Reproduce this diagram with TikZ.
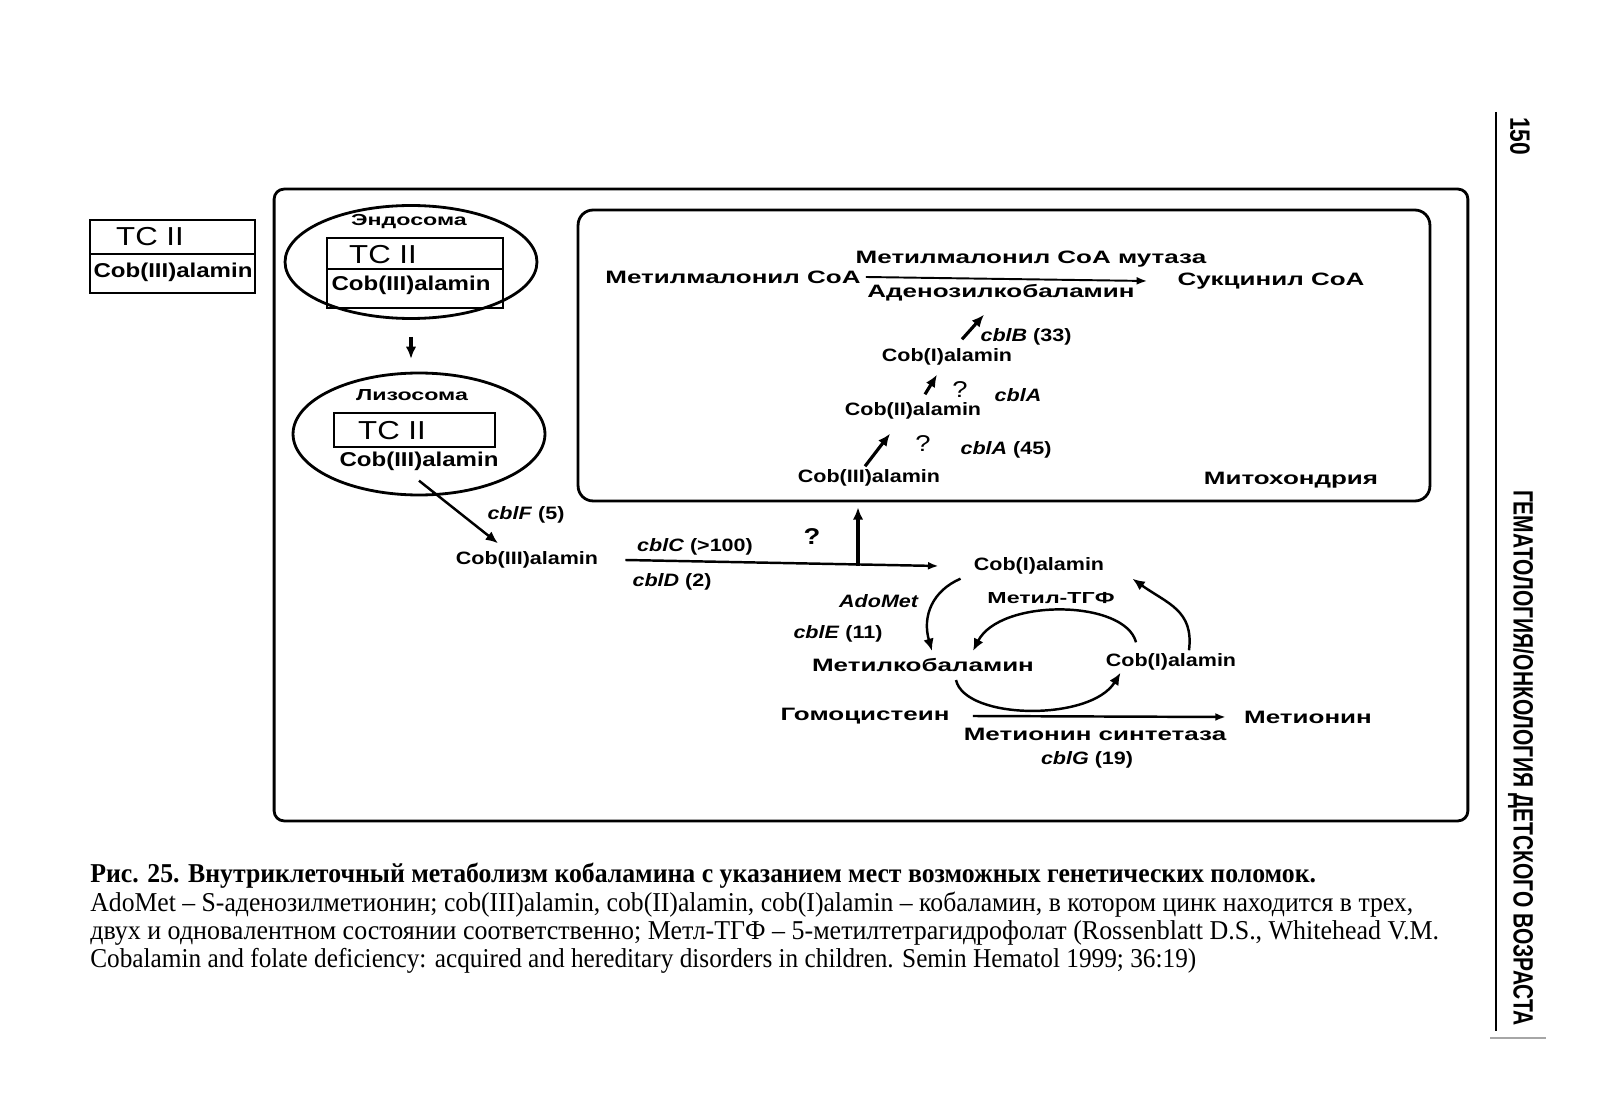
\documentclass[tikz,border=0pt]{standalone}
\usepackage{fontspec}
\usepackage{graphicx}
\setmainfont{Liberation Serif}
\newfontfamily\cyrsans[FakeStretch=1.45]{Liberation Sans}
\newfontfamily\latsans[FakeStretch=1.2]{Liberation Sans}
\newfontfamily\headsans{Liberation Sans}
\usetikzlibrary{shapes.geometric, arrows.meta, positioning}
\tikzset{
    frame/.style={draw=black, line width=1.6pt, inner sep=0pt},
    tcbox/.style={draw=black, line width=1.1pt, inner sep=0pt},
    cell/.style={ellipse, draw=black, line width=1.6pt, inner sep=0pt},
    cyr/.style={font=\cyrsans\bfseries\fontsize{10.2}{12}\selectfont, inner sep=0pt},
    cyrsmall/.style={font=\cyrsans\bfseries\fontsize{9.1}{11}\selectfont, inner sep=0pt},
    lat/.style={font=\latsans\bfseries\fontsize{10.2}{12}\selectfont, inner sep=0pt},
    latbig/.style={font=\latsans\bfseries\fontsize{11.4}{13}\selectfont, inner sep=0pt},
    tclbl/.style={font=\latsans\fontsize{14.8}{16}\selectfont, inner sep=0pt},
    qmark/.style={font=\latsans\fontsize{13}{15}\selectfont, inner sep=0pt},
    arr/.style={-{Latex[length=6pt,width=4.5pt]}, line width=1.4pt},
    fatarr/.style={-{Latex[length=7pt,width=6pt]}, line width=1.8pt},
    bowarr/.style={-{Latex[length=7pt,width=6pt]}, line width=1.4pt},
    capline/.style={anchor=west, inner sep=0pt, font=\fontsize{15.5}{18}\selectfont},
    headtxt/.style={inner sep=0pt, rotate=-90, font=\headsans\bfseries\fontsize{15.9}{18}\selectfont}
}

\begin{document}
\begin{tikzpicture}[x=0.02cm, y=-0.02cm]
  \path[use as bounding box, fill=white] (0,0) rectangle (1600,1101);

  \node[tcbox, minimum width=3.3cm, minimum height=1.46cm] (freebox) at (172.5,256.5) {};
  \draw[line width=1.1pt] ([yshift=-0.7cm]freebox.north west) -- ([yshift=-0.7cm]freebox.north east);
  \node[tclbl] (tcfree) at (150,237) {TC II};
  \node[latbig] (cobfree) at (173,272) {Cob(III)alamin};

  \node[frame, rounded corners=0.2cm, minimum width=23.88cm, minimum height=12.64cm] (cellframe) at (871,505) {};

  \node[cell, minimum width=5.04cm, minimum height=2.26cm] (endo) at (411,262) {};
  \node[cyrsmall] (endolbl) at (409,222) {Эндосома};
  \node[tcbox, minimum width=3.52cm, minimum height=1.4cm] (endobox) at (415,273) {};
  \draw[line width=1.1pt] ([yshift=-0.64cm]endobox.north west) -- ([yshift=-0.64cm]endobox.north east);
  \node[tclbl] (tcendo) at (383,255) {TC II};
  \node[latbig] (cobendo) at (411,285) {Cob(III)alamin};

  \node[cell, minimum width=5.04cm, minimum height=2.44cm] (lyso) at (419,434) {};
  \node[cyrsmall] (lysolbl) at (412,395) {Лизосома};
  \node[tcbox, minimum width=3.22cm, minimum height=0.68cm] (lysobox) at (414.5,430) {};
  \node[tclbl] (tclyso) at (392,431) {TC II};
  \node[latbig] (coblyso) at (419,461) {Cob(III)alamin};

  \draw[fatarr] ([yshift=-0.34cm]endo.south) -- ++(0,-0.44cm);

  \node[lat] (cblf) at (526,515) {\textit{cblF} (5)};
  \node[lat] (cobcyt) at (527,560) {Cob(III)alamin};
  \draw[bowarr] ([yshift=-0.2cm]coblyso.south) -- ([xshift=-0.58cm,yshift=0.16cm]cobcyt.north);

  \node[frame, rounded corners=0.3cm, minimum width=17.04cm, minimum height=5.82cm] (mito) at (1004,355.5) {};
  \node[cyr] (methylmal) at (733,277) {Метилмалонил CoA};
  \node[cyr] (mutase) at (1031,259) {Метилмалонил CoA мутаза};
  \node[cyr] (adenosyl) at (1001,293) {Аденозилкобаламин};
  \node[cyr] (succinyl) at (1271,281) {Сукцинил CoA};
  \draw[arr, line width=1.1pt] ([xshift=0.1cm]methylmal.east) -- ([xshift=-0.6cm]succinyl.west);

  \node[lat] (cobImito) at (947,357) {Cob(I)alamin};
  \node[lat] (cblb) at (1026,337) {\textit{cblB} (33)};
  \node[lat] (cobIImito) at (913,411) {Cob(II)alamin};
  \node[qmark] (qA) at (960,390) {?};
  \node[lat] (cblaA) at (1018,395) {\textit{cblA}};
  \node[lat] (cobIIImito) at (869,478) {Cob(III)alamin};
  \node[qmark] (qB) at (923,444) {?};
  \node[lat] (cblaB) at (1006,450) {\textit{cblA} (45)};
  \node[cyr] (mitolbl) at (1291,480) {Митохондрия};
  \draw[fatarr] ([xshift=0.3cm,yshift=0.18cm]cobImito.north) -- ([xshift=-0.34cm,yshift=-0.26cm]adenosyl.south);
  \draw[fatarr] ([xshift=0.24cm,yshift=0.16cm]cobIImito.north) -- ([xshift=-0.2cm,yshift=-0.18cm]cobImito.south);
  \draw[fatarr] ([xshift=-0.08cm,yshift=0.06cm]cobIIImito.north) -- ([xshift=-0.46cm,yshift=-0.28cm]cobIImito.south);

  \node[lat] (cblc) at (695,547) {\textit{cblC} (>100)};
  \node[lat] (cbld) at (672,582) {\textit{cblD} (2)};
  \node[qmark, font=\latsans\bfseries\fontsize{13}{15}\selectfont] (qC) at (812,537) {?};
  \node[lat] (cobIcyt) at (1039,566) {Cob(I)alamin};
  \draw[arr] ([xshift=0.54cm]cobcyt.east) -- ([xshift=-0.7cm]cobIcyt.west);
  \coordinate (branch) at (858,566);
  \draw[fatarr, shorten >=0.1cm] (branch) -- (branch |- mito.south);

  \node[lat] (adomet) at (879,601) {\textit{AdoMet}};
  \node[lat] (cble) at (838,634) {\textit{cblE} (11)};
  \node[cyrsmall] (methylthf) at (1051,598) {Метил-ТГФ};
  \node[cyr] (methylcob) at (923,665) {Метилкобаламин};
  \node[lat] (cobIright) at (1171,662) {Cob(I)alamin};
  \node[cyr] (homocys) at (865,716) {Гомоцистеин};
  \node[cyr] (methionine) at (1308,717) {Метионин};
  \node[cyr] (synthase) at (1095,734) {Метионин синтетаза};
  \node[lat] (cblg) at (1087,760) {\textit{cblG} (19)};
  \draw[arr] ([xshift=0.46cm]homocys.east) -- ([xshift=-0.36cm]methionine.west);

  \draw[bowarr] ([xshift=-0.26cm,yshift=-0.08cm]cobIcyt.south west) .. controls +(-0.56cm,-0.24cm) and +(-0.2cm,0.7cm) .. ([xshift=0.18cm,yshift=0.14cm]methylcob.north);
  \draw[bowarr] ([xshift=0.36cm,yshift=0.06cm]cobIright.north) .. controls +(0.1cm,0.8cm) and +(0.7cm,-0.5cm) .. ([xshift=0.56cm,yshift=-0.08cm]cobIcyt.south east);
  \draw[bowarr] ([xshift=-0.7cm,yshift=0.22cm]cobIright.north) .. controls +(-0.22cm,0.86cm) and +(0.54cm,1.06cm) .. ([xshift=1cm,yshift=0.14cm]methylcob.north);
  \draw[bowarr] ([xshift=0.66cm,yshift=-0.16cm]methylcob.south) .. controls +(0.18cm,-0.8cm) and +(-0.6cm,-0.98cm) .. ([xshift=0.3cm,yshift=-0.04cm]cobIright.south west);

  \node[capline] (capA) at (90,876) {\resizebox{24.52cm}{\height}{\bfseries Рис. 25. Внутриклеточный метаболизм кобаламина с указанием мест возможных генетических поломок.}};
  \node[capline] (capB) at (90,905) {\resizebox{26.46cm}{\height}{AdoMet – S-аденозилметионин; cob(III)alamin, cob(II)alamin, cob(I)alamin – кобаламин, в котором цинк находится в трех,}};
  \node[capline] (capC) at (90,933) {\resizebox{26.98cm}{\height}{двух и одновалентном состоянии соответственно; Метл-ТГФ – 5-метилтетрагидрофолат (Rossenblatt D.S., Whitehead V.M.}};
  \node[capline] (capD) at (90,961) {\resizebox{22.12cm}{\height}{Cobalamin and folate deficiency: acquired and hereditary disorders in children. Semin Hematol 1999; 36:19)}};

  \coordinate (ruletop) at (1496,112);
  \coordinate (rulebot) at (1496,1031);
  \draw[line width=1.5pt] (ruletop) -- (rulebot);
  \node[headtxt] (pagenum) at (1520,136) {\resizebox{0.76cm}{\height}{150}};
  \node[headtxt] (runhead) at (1521,758) {\resizebox{10.72cm}{\height}{ГЕМАТОЛОГИЯ/ОНКОЛОГИЯ ДЕТСКОГО ВОЗРАСТА}};
  \coordinate (greyl) at (1490,1038);
  \coordinate (greyr) at (1546,1038);
  \draw[black!35, line width=1.5pt] (greyl) -- (greyr);
\end{tikzpicture}
\end{document}
